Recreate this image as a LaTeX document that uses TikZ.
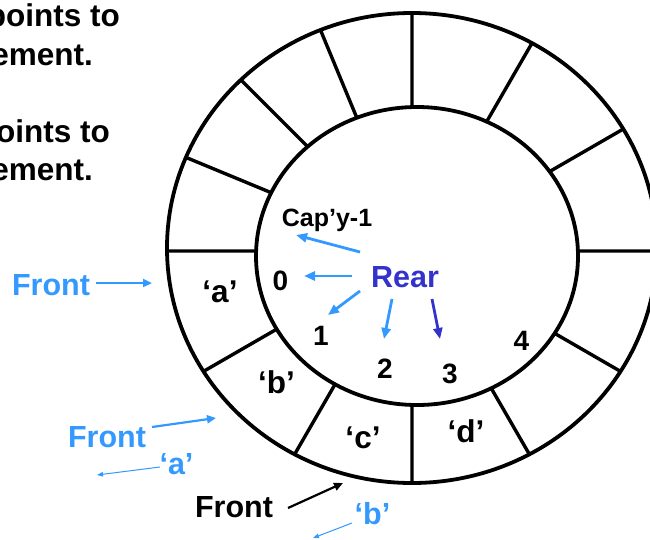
\documentclass[tikz,border=0pt]{standalone}
\usepackage{fontspec}
\setmainfont{Liberation Sans}
\usepackage{xcolor}
\definecolor{frontblue}{HTML}{3399FF}
\definecolor{rearblue}{HTML}{3333CC}
\usepackage{tikz}
\usetikzlibrary{arrows.meta,intersections}

\begin{document}
\begin{tikzpicture}[x=1pt, y=-1pt,
    every node/.style={inner sep=0pt, anchor=base,
                       font=\bfseries\fontsize{30.5}{36}\selectfont},
    note/.style={anchor=base east, font=\bfseries\fontsize{31.5}{38}\selectfont},
    cell/.style={font=\bfseries\fontsize{31.5}{38}\selectfont},
    idx/.style={font=\bfseries\fontsize{28}{34}\selectfont},
    ringline/.style={line width=3.8pt},
    divider/.style={line width=3.4pt},
    reararr/.style={-{Triangle[length=11pt,width=9pt]}, line width=2.8pt,
                    frontblue},
    frontarr/.style={-{Triangle[length=9pt,width=8pt]}, line width=2.2pt},
    thinarr/.style={-{Triangle[length=6pt,width=4.5pt]}, line width=1pt,
                    frontblue}]
  \path[use as bounding box, clip] (0,0) rectangle (650,539);

  % text cut off at the left edge
  \node[note] (t1) at (120,26)  {points to};
  \node[note] (t2) at (93,65)   {ement.};
  \node[note] (t3) at (110,142) {oints to};
  \node[note] (t4) at (93,180)  {ement.};

  % the ring of cells
  \draw[ringline, name path=outer] (412,248) ellipse [x radius=245, y radius=235];
  \draw[ringline, name path=inner] (417,256) ellipse [x radius=161, y radius=149];
  \foreach \a in {0,30,60,90,112.5,135,157.5,180,210,240,270,300,330} {
    \path[name path=ray] (412,251) -- ++(-\a:330);
    \path[name intersections={of=ray and inner, by=pin}];
    \path[name intersections={of=ray and outer, by=pout}];
    \draw[divider] (pin) -- (pout);
  }

  \node[cell] (ca) at (220,302)   {‘a’};
  \node[cell] (cb) at (276.5,393) {‘b’};
  \node[cell] (cc) at (363,448)   {‘c’};
  \node[cell] (cd) at (466,442)   {‘d’};

  \node[idx] (n0) at (280.5,290) {0};
  \node[idx] (n1) at (321,345)   {1};
  \node[idx] (n2) at (385,378)   {2};
  \node[idx] (n3) at (450,383)   {3};
  \node[idx] (n4) at (521.5,350) {4};
  \node[font=\bfseries\fontsize{25}{30}\selectfont] (cap) at (327,226) {Cap’y-1};

  \node[text=rearblue] (rear) at (405,287) {Rear};
  \draw[reararr] ([shift={(-45,-35)}]rear.base) -- ([shift={(-31,9)}]cap.base);
  \draw[reararr] ([shift={(-53,-11)}]rear.base) -- ([shift={(23.5,-14)}]n0.base);
  \draw[reararr] ([shift={(-45,4)}]rear.base)   -- ([shift={(7,-30)}]n1.base);
  \draw[reararr] ([shift={(-13,12)}]rear.base)  -- ([shift={(-1,-39)}]n2.base);
  \draw[reararr, rearblue] ([shift={(27,12)}]rear.base) -- ([shift={(-10,-44)}]n3.base);

  % front pointers
  \node[text=frontblue] (front1) at (51,295)  {Front};
  \node[text=frontblue] (front2) at (107,447) {Front};
  \node (front3) at (234,517) {Front};
  \draw[frontarr, frontblue] ([shift={(45,-12)}]front1.base) -- ([shift={(-68,-19)}]ca.base);
  \draw[frontarr, frontblue] ([shift={(45,-20)}]front2.base) -- ([shift={(-60.5,25)}]cb.base);
  \draw[frontarr] ([shift={(54,-9)}]front3.base) -- ([shift={(-20,35)}]cc.base);

  % removed elements
  \node[text=frontblue] (olda) at (176.5,474) {‘a’};
  \node[text=frontblue] (oldb) at (372.5,524) {‘b’};
  \coordinate (losta) at (97,475);
  \coordinate (lostb) at (313,538);
  \draw[thinarr] ([shift={(-16.5,-7)}]olda.base) -- (losta);
  \draw[thinarr] ([shift={(-20.5,-1)}]oldb.base) -- (lostb);
\end{tikzpicture}
\end{document}
